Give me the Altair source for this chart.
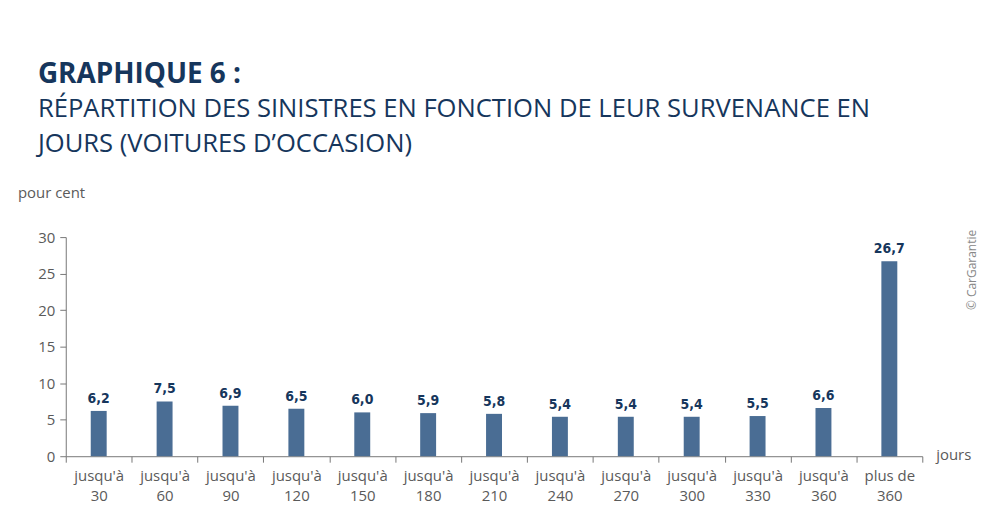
import altair as alt
import pandas as pd

categories = ["jusqu'à|30", "jusqu'à|60", "jusqu'à|90", "jusqu'à|120", "jusqu'à|150",
              "jusqu'à|180", "jusqu'à|210", "jusqu'à|240", "jusqu'à|270", "jusqu'à|300",
              "jusqu'à|330", "jusqu'à|360", "plus de|360"]
values = [6.2, 7.5, 6.9, 6.5, 6.0, 5.9, 5.8, 5.4, 5.4, 5.4, 5.5, 6.6, 26.7]
labels = ["6,2", "7,5", "6,9", "6,5", "6,0", "5,9", "5,8", "5,4", "5,4", "5,4", "5,5", "6,6", "26,7"]
y_ticks = [0, 5, 10, 15, 20, 25, 30]

df = pd.DataFrame({"cat": categories, "val": values, "lab": labels})
one = pd.DataFrame({"k": [0]})

NAVY = "#16365c"
BAR = "#4a6d94"
GREY = "#5a5a5a"
FONT = "Open Sans"

x = alt.X("cat:N", sort=categories, title=None,
          scale=alt.Scale(paddingInner=0, paddingOuter=0),
          axis=alt.Axis(labelExpr="split(datum.label, '|')", labelAngle=0,
                        tickBand="extent", tickSize=6, tickColor="#777777",
                        domainColor="#777777", labelFont=FONT, labelFontSize=15,
                        labelColor=GREY, labelPadding=6, labelLineHeight=20,
                        labelFontWeight="normal"))
y = alt.Y("val:Q", title=None,
          scale=alt.Scale(domain=[0, 30], nice=False),
          axis=alt.Axis(values=y_ticks, grid=False, tickSize=6, tickColor="#777777",
                        domainColor="#777777", labelFont=FONT, labelFontSize=15,
                        labelColor=GREY, labelPadding=5, labelFontWeight="normal"))

bars = alt.Chart(df).mark_bar(color=BAR, width=16).encode(x=x, y=y)
text = alt.Chart(df).mark_text(dy=-12, font="DejaVu Sans Condensed", fontWeight="bold",
                               fontSize=14, color=NAVY).encode(x=x, y=y, text="lab:N")

pour = alt.Chart(one).mark_text(text="pour cent", align="left", baseline="middle",
                                font=FONT, fontSize=15, color=GREY, fontWeight="normal").encode(
    x=alt.value(-48), y=alt.value(-44))
jours = alt.Chart(one).mark_text(text="jours", align="left", baseline="middle",
                                 font=FONT, fontSize=15, color=GREY, fontWeight="normal").encode(
    x=alt.value(874), y=alt.value(219))
copy = alt.Chart(one).mark_text(text="© CarGarantie", angle=270, align="center", baseline="middle",
                                font=FONT, fontSize=12, color="#888888", fontWeight="normal").encode(
    x=alt.value(910), y=alt.value(33))

chart = alt.layer(bars, text, pour, jours, copy).properties(
    width=860, height=220,
    autosize=alt.AutoSizeParams(type="none"),
    padding={"left": 58, "top": 229, "right": 70, "bottom": 60},
    title=alt.TitleParams(
        text="GRAPHIQUE 6 :",
        subtitle=["RÉPARTITION DES SINISTRES EN FONCTION DE LEUR SURVENANCE EN",
                  "JOURS (VOITURES D’OCCASION)"],
        anchor="start", frame="group", dx=-28, offset=30,
        font=FONT, fontSize=28, fontWeight="bold", color=NAVY,
        subtitleFont=FONT, subtitleFontSize=25.7, subtitleFontWeight="normal",
        subtitleColor=NAVY, subtitleLineHeight=35, subtitlePadding=8,
    ),
).configure_view(stroke=None)

chart.save("out.html", embed_options={"renderer": "svg", "actions": False})
